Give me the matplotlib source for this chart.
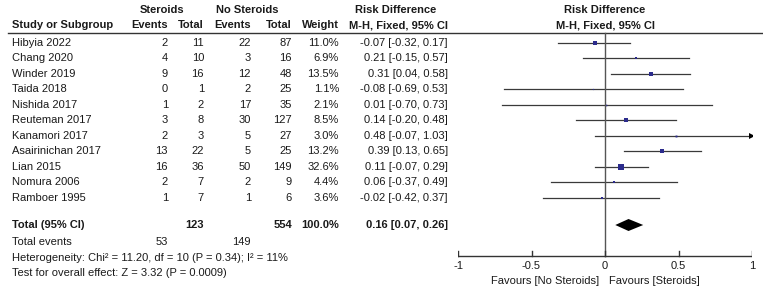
import numpy as np
import matplotlib
matplotlib.use("Agg")
import matplotlib.pyplot as plt

plt.rcParams['font.family'] = ['Liberation Sans', 'DejaVu Sans']

studies = ["Hibyia 2022", "Chang 2020", "Winder 2019", "Taida 2018", "Nishida 2017",
           "Reuteman 2017", "Kanamori 2017", "Asairinichan 2017", "Lian 2015",
           "Nomura 2006", "Ramboer 1995"]
ster_events = [2, 4, 9, 0, 1, 3, 2, 13, 16, 2, 1]
ster_total = [11, 10, 16, 1, 2, 8, 3, 22, 36, 7, 7]
no_events = [22, 3, 12, 2, 17, 30, 5, 5, 50, 2, 1]
no_total = [87, 16, 48, 25, 35, 127, 27, 25, 149, 9, 6]
weight = [11.0, 6.9, 13.5, 1.1, 2.1, 8.5, 3.0, 13.2, 32.6, 4.4, 3.6]
rd = [-0.07, 0.21, 0.31, -0.08, 0.01, 0.14, 0.48, 0.39, 0.11, 0.06, -0.02]
lo = [-0.32, -0.15, 0.04, -0.69, -0.70, -0.20, -0.07, 0.13, -0.07, -0.37, -0.42]
hi = [0.17, 0.57, 0.58, 0.53, 0.73, 0.48, 1.03, 0.65, 0.29, 0.49, 0.37]

tot_rd, tot_lo, tot_hi = 0.16, 0.07, 0.26
tot_ster, tot_no = 123, 554
tot_ev_ster, tot_ev_no = 53, 149
het_text = "Heterogeneity: Chi\u00b2 = 11.20, df = 10 (P = 0.34); I\u00b2 = 11%"
test_text = "Test for overall effect: Z = 3.32 (P = 0.0009)"
xticks = [-1, -0.5, 0, 0.5, 1]
xticklabels = ["-1", "-0.5", "0", "0.5", "1"]

W, H = 763, 289
fig = plt.figure(figsize=(W / 100, H / 100), dpi=100)

# text layer in pixel units
ax = fig.add_axes([0, 0, 1, 1])
ax.set_xlim(0, W)
ax.set_ylim(H, 0)
ax.axis("off")

# forest layer: x in risk difference units, y in pixels
x0, x1 = 458, 752
fx = fig.add_axes([x0 / W, 0, (x1 - x0) / W, 1])
fx.set_xlim(-1, 1)
fx.set_ylim(H, 0)
fx.axis("off")
fx.patch.set_alpha(0)

fs = 8
tc = "#1a1a1a"
row0, dy = 42.5, 15.55
rows = [row0 + dy * i for i in range(len(studies))]
y_tot = 225
y_axis = 256

# column right edges
c_se, c_st, c_ne, c_nt, c_w, c_rd = 168, 204, 251, 292, 339, 448

# headers
ax.text(162, 10, "Steroids", ha="center", va="center", fontsize=fs, fontweight="bold", color=tc)
ax.text(247, 10, "No Steroids", ha="center", va="center", fontsize=fs, fontweight="bold", color=tc)
ax.text(396, 10, "Risk Difference", ha="center", va="center", fontsize=fs, fontweight="bold", color=tc)
ax.text(605, 10, "Risk Difference", ha="center", va="center", fontsize=fs, fontweight="bold", color=tc)
ax.text(12, 25, "Study or Subgroup", ha="left", va="center", fontsize=fs, fontweight="bold", color=tc)
for xr, lab in [(c_se, "Events"), (c_st, "Total"), (c_ne, "Events"), (c_nt, "Total"), (c_w, "Weight")]:
    ax.text(xr, 25, lab, ha="right", va="center", fontsize=fs, fontweight="bold", color=tc)
ax.text(c_rd, 25, "M-H, Fixed, 95% CI", ha="right", va="center", fontsize=fs, fontweight="bold", color=tc)
ax.text(605, 25, "M-H, Fixed, 95% CI", ha="center", va="center", fontsize=fs, fontweight="bold", color=tc)
ax.plot([8, W], [32.5, 32.5], color="#333333", lw=1)

# study rows
for i, y in enumerate(rows):
    ax.text(12, y, studies[i], ha="left", va="center", fontsize=fs, color=tc)
    ax.text(c_se, y, str(ster_events[i]), ha="right", va="center", fontsize=fs, color=tc)
    ax.text(c_st, y, str(ster_total[i]), ha="right", va="center", fontsize=fs, color=tc)
    ax.text(c_ne, y, str(no_events[i]), ha="right", va="center", fontsize=fs, color=tc)
    ax.text(c_nt, y, str(no_total[i]), ha="right", va="center", fontsize=fs, color=tc)
    ax.text(c_w, y, f"{weight[i]:.1f}%", ha="right", va="center", fontsize=fs, color=tc)
    ax.text(c_rd, y, f"{rd[i]:.2f} [{lo[i]:.2f}, {hi[i]:.2f}]", ha="right", va="center",
            fontsize=fs, color=tc)

    end = min(hi[i], 1)
    fx.plot([max(lo[i], -1), end], [y, y], color="#3a3a3a", lw=0.9)
    if hi[i] > 1:
        fx.plot([1], [y], marker=">", color="black", ms=4.5, mew=0)
    side = 1.1 * np.sqrt(weight[i])
    fx.plot([rd[i]], [y], marker="s", color="#2b2b8c", ms=side * 0.72, mew=0)

# totals
ax.text(12, y_tot, "Total (95% CI)", ha="left", va="center", fontsize=fs, fontweight="bold", color=tc)
ax.text(c_st, y_tot, str(tot_ster), ha="right", va="center", fontsize=fs, fontweight="bold", color=tc)
ax.text(c_nt, y_tot, str(tot_no), ha="right", va="center", fontsize=fs, fontweight="bold", color=tc)
ax.text(c_w, y_tot, "100.0%", ha="right", va="center", fontsize=fs, fontweight="bold", color=tc)
ax.text(c_rd, y_tot, f"{tot_rd:.2f} [{tot_lo:.2f}, {tot_hi:.2f}]", ha="right", va="center",
        fontsize=fs, fontweight="bold", color=tc)
ax.text(12, 242, "Total events", ha="left", va="center", fontsize=fs, color=tc)
ax.text(c_se, 242, str(tot_ev_ster), ha="right", va="center", fontsize=fs, color=tc)
ax.text(c_ne, 242, str(tot_ev_no), ha="right", va="center", fontsize=fs, color=tc)
ax.text(12, 258, het_text, ha="left", va="center", fontsize=fs, color=tc)
ax.text(12, 273, test_text, ha="left", va="center", fontsize=fs, color=tc)

fx.fill([tot_lo, tot_rd, tot_hi, tot_rd], [y_tot, y_tot - 6, y_tot, y_tot + 6],
        color="black", lw=0)

# zero line and axis
fx.plot([0, 0], [32.5, y_axis], color="#555555", lw=1)
fx.plot([xticks[0], xticks[-1]], [y_axis, y_axis], color="#333333", lw=1)
for t, lab in zip(xticks, xticklabels):
    fx.plot([t, t], [y_axis - 5, y_axis], color="#333333", lw=1)
    fx.text(t, 266, lab, ha="center", va="center", fontsize=fs, color=tc)
fx.text(-0.04, 281, "Favours [No Steroids]", ha="right", va="center", fontsize=fs, color=tc)
fx.text(0.03, 281, "Favours [Steroids]", ha="left", va="center", fontsize=fs, color=tc)

fig.savefig("out.png", dpi=100)
